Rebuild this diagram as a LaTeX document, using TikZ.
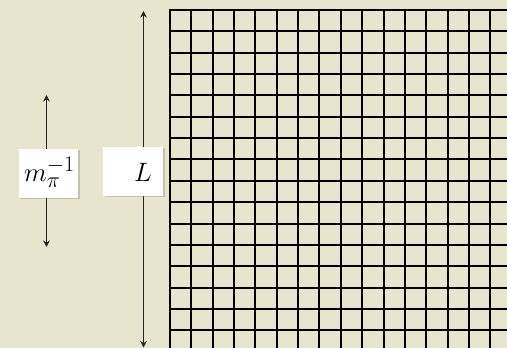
\documentclass[tikz,border=0pt]{standalone}
\usetikzlibrary{arrows.meta,shadows}
\definecolor{bgcol}{RGB}{232,228,205}
\tikzset{
  gridline/.style={line width=2pt,black},
  dimarrow/.style={line width=1pt,black!85,{Stealth[length=6.5pt,width=6.5pt]}-{Stealth[length=6.5pt,width=6.5pt]}},
  labelbox/.style={fill=white,draw=none,inner sep=0pt,
    drop shadow={shadow xshift=1.2pt,shadow yshift=-1.2pt,opacity=0.35}},
  labeltext/.style={inner sep=0pt,font=\fontsize{24.88}{30}\selectfont,scale=1.07,anchor=base}
}
\begin{document}
\begin{tikzpicture}[x=1pt,y=-1pt]
\useasboundingbox (0,0) rectangle (507,348);
\fill[bgcol] (0,0) rectangle (507,348);
\begin{scope}
\clip (0,0) rectangle (507,348);
\foreach \k in {0,...,16} {
  \pgfmathsetmacro{\gx}{round(170+21.35*\k)}
  \pgfmathsetmacro{\gy}{round(10+21.35*\k)}
  \draw[gridline] (\gx,10) -- (\gx,360);
  \draw[gridline] (169,\gy) -- (520,\gy);
}
\end{scope}
\coordinate (Ltop) at (143.5,11);
\coordinate (Lbot) at (143.5,347.5);
\coordinate (mtop) at (46.5,95);
\coordinate (mbot) at (46.5,247);
\draw[dimarrow] (Ltop) -- (Lbot);
\draw[dimarrow] (mtop) -- (mbot);
\node[labelbox,minimum width=60pt,minimum height=49pt] (Lbox) at (133.3,171) {};
\node[labeltext] (Ltext) at (143,181.3) {$L$};
\node[labelbox,minimum width=59.3pt,minimum height=48.5pt] (mbox) at (48.7,173.3) {};
\node[labeltext] (mtext) at (49.5,181) {$m_\pi^{-1}$};
\end{tikzpicture}
\end{document}
